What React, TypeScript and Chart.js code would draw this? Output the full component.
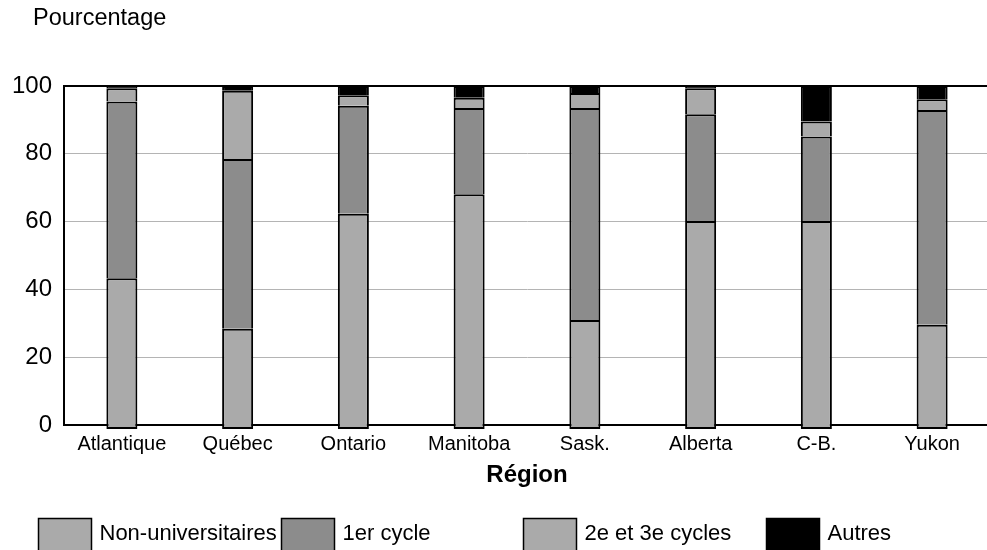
import React, { useEffect, useRef } from "react";
import { Chart, registerables } from "chart.js";

Chart.register(...registerables);

// Répartition (%) des diplômés par région et niveau d'études
const regions = ["Atlantique", "Québec", "Ontario", "Manitoba", "Sask.", "Alberta", "C-B.", "Yukon"];
const nonUniversitaires = [43.3, 28.4, 62.3, 68.1, 31.0, 60.2, 60.2, 29.6];
const premierCycle = [52.1, 50.1, 31.9, 25.4, 62.5, 31.5, 24.9, 63.3];
const deuxiemeTroisiemeCycles = [3.9, 20.1, 3.1, 3.0, 4.4, 7.6, 4.4, 3.2];
const autres = [0.7, 1.4, 2.7, 3.5, 2.1, 0.7, 10.5, 3.9];

const seriesLabels = ["Non-universitaires", "1er cycle", "2e et 3e cycles", "Autres"];
const seriesColors = ["#aaaaaa", "#8c8c8c", "#aaaaaa", "#000000"];
const yTicks = [0, 20, 40, 60, 80, 100];

const FONT = "'Liberation Sans', Arial, Helvetica, sans-serif";

// Légende et titre de l'axe vertical dessinés directement sur le canevas
const annotations = {
  id: "annotations",
  afterDraw(chart: Chart) {
    const { ctx } = chart;
    ctx.save();
    ctx.fillStyle = "#000";
    ctx.font = `23.5px ${FONT}`;
    ctx.textAlign = "left";
    ctx.textBaseline = "alphabetic";
    ctx.fillText("Pourcentage", 33, 25);

    const startX = 38;
    const step = 242.7;
    const boxW = 53;
    const boxTop = 518.5;
    ctx.font = `22px ${FONT}`;
    chart.data.datasets.forEach((ds: any, i: number) => {
      const x = Math.round(startX + i * step) + 0.5;
      ctx.fillStyle = ds.backgroundColor;
      ctx.fillRect(x, boxTop, boxW, 40);
      ctx.strokeStyle = "#000";
      ctx.lineWidth = 1.5;
      ctx.strokeRect(x, boxTop, boxW, 40);
      ctx.fillStyle = "#000";
      ctx.fillText(ds.label, x + 61, 540);
    });
    ctx.restore();
  },
};

export default function App() {
  const canvasRef = useRef<HTMLCanvasElement>(null);

  useEffect(() => {
    const canvas = canvasRef.current;
    if (!canvas) return;
    const values = [nonUniversitaires, premierCycle, deuxiemeTroisiemeCycles, autres];
    const chart = new Chart(canvas, {
      type: "bar",
      data: {
        labels: regions,
        datasets: values.map((data, i) => ({
          label: seriesLabels[i],
          data,
          backgroundColor: seriesColors[i],
          borderColor: "#000",
          borderWidth: 2,
          borderSkipped: i === 0 ? false : "start",
          base: i === 0 ? -1.2 : undefined,
          clip: false,
          barPercentage: 0.268,
          categoryPercentage: 1,
        })),
      },
      options: {
        responsive: false,
        animation: false,
        layout: { padding: { top: 86, bottom: 60, left: 0, right: 0 } },
        plugins: {
          legend: { display: false },
          tooltip: { enabled: false },
          title: { display: false },
        },
        scales: {
          x: {
            stacked: true,
            grid: { display: false, drawTicks: false },
            border: { display: true, color: "#000", width: 2 },
            ticks: {
              color: "#000",
              font: { family: FONT, size: 20 },
              padding: 7,
              maxRotation: 0,
              autoSkip: false,
            },
            title: {
              display: true,
              text: "Région",
              color: "#000",
              font: { family: FONT, size: 24, weight: "bold" },
              padding: 0,
            },
            afterFit(scale: any) {
              scale.height = 65;
            },
          },
          y: {
            stacked: true,
            min: 0,
            max: 100,
            afterBuildTicks(scale: any) {
              scale.ticks = yTicks.map((v) => ({ value: v }));
            },
            grid: {
              drawTicks: false,
              color: (c: any) => (c.tick && c.tick.value === 100 ? "#000" : "#b4b4b4"),
              lineWidth: (c: any) => (c.tick && c.tick.value === 100 ? 2 : 1),
            },
            border: { display: true, color: "#000", width: 2 },
            ticks: {
              color: "#000",
              font: { family: FONT, size: 24 },
              padding: 12,
            },
            afterFit(scale: any) {
              scale.width = 64;
            },
          },
        },
      },
      plugins: [annotations],
    });
    return () => chart.destroy();
  }, []);

  return (
    <div
      style={{
        position: "absolute",
        left: 0,
        top: 0,
        width: 987,
        height: 550,
        overflow: "hidden",
        background: "#fff",
      }}
    >
      <canvas ref={canvasRef} width={990} height={550} style={{ display: "block" }} />
    </div>
  );
}
